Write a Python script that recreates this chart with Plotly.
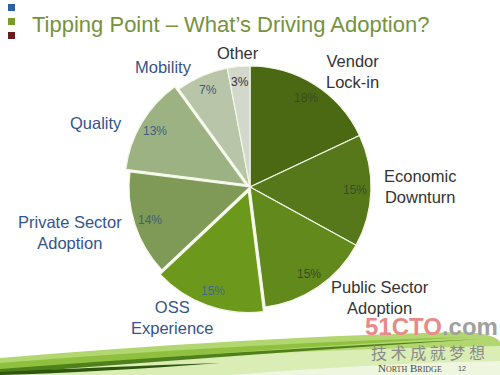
import math
import plotly.graph_objects as go

# ---- data ----
categories = ["Vendor<br>Lock-in", "Economic<br>Downturn", "Public Sector<br>Adoption",
              "OSS<br>Experience", "Private Sector<br>Adoption", "Quality", "Mobility", "Other"]
values = [18, 15, 15, 15, 14, 13, 7, 3]
pulls = [0, 0, 0, 0.04, 0, 0.04, 0, 0]
slice_colors = ["#4b6913", "#56781a", "#61891b", "#6c991c", "#7e9a56", "#9cb283", "#b9c5a8", "#d2d8cb"]
label_colors = ["#333333", "#333333", "#333333", "#35548a", "#35548a", "#35548a", "#35548a", "#333333"]
pct_colors = ["#3b4a26", "#3b4a26", "#3b4a26", "#3f6b88", "#3f5f7e", "#3f5f7e", "#3f5a80", "#333333"]
# outside label positions (pixels)
label_px = [(352, 72), (420, 187), (380, 297), (172, 317), (70, 232), (96, 123), (163, 67), (238, 53)]

W, H = 500, 375
cx, cy, R = 250, 187, 121
maxpull = max(pulls)
half = R * (1 + maxpull)

fig = go.Figure(go.Pie(
    labels=[c.replace("<br>", " ") for c in categories],
    values=values,
    pull=pulls,
    sort=False,
    direction="clockwise",
    rotation=0,
    textinfo="none",
    hoverinfo="label+percent",
    marker=dict(colors=slice_colors, line=dict(color="#f3f7e6", width=1.2)),
    domain=dict(x=[(cx - half) / W, (cx + half) / W],
                y=[1 - (cy + half) / H, 1 - (cy - half) / H]),
    showlegend=False,
))

ann = []
def P(px, py):
    return px / W, 1 - py / H

def add(px, py, text, size, color, family="Liberation Sans, Arial", xanchor="center", **kw):
    x, y = P(px, py)
    ann.append(dict(x=x, y=y, xref="paper", yref="paper", text=text, showarrow=False,
                    xanchor=xanchor, yanchor="middle",
                    font=dict(family=family, size=size, color=color), **kw))

# percent labels, placed along each slice's mid angle
total = sum(values)
cum = 0
for v, p, col in zip(values, pulls, pct_colors):
    mid = (cum + v / 2) / total * 2 * math.pi
    cum += v
    r = R * 0.87 + p * R
    add(cx + r * math.sin(mid), cy - r * math.cos(mid), f"{round(v / total * 100)}%", 12, col)

for cat, (px, py), col in zip(categories, label_px, label_colors):
    add(px, py, cat, 16.5, col, align="center")

# title
add(30, 24, "Tipping Point – What’s Driving Adoption?", 22, "#76923c", xanchor="left")

# watermark texts
add(431, 326, "<b><span style='color:#e88a8a'>51CTO</span><span style='color:#a0a0a0'>.com</span></b>", 24, "#a0a0a0",
    family="Liberation Sans Narrow, Liberation Sans")
add(428, 352, "技 术 成 就 梦 想", 16, "#8a8a8a", family="Noto Sans CJK SC")
add(410, 368, "N<span style='font-size:8px'>ORTH</span> B<span style='font-size:8px'>RIDGE</span>", 11, "#4a4a4a",
    family="Liberation Serif")
add(462, 368, "12", 7, "#555555")

shapes = []
# bullet squares
for (y0, col) in [(4, "#2f5ea6"), (18, "#7b9a2c"), (32, "#6a1c1c")]:
    shapes.append(dict(type="rect", xref="paper", yref="paper",
                       x0=8 / W, x1=15 / W, y0=1 - (y0 + 7) / H, y1=1 - y0 / H,
                       fillcolor=col, line=dict(width=0), layer="above"))

# green swoosh at bottom
def path(segs):
    s = ""
    for cmd, pts in segs:
        s += cmd + " " + " ".join(f"{px / W:.4f},{1 - py / H:.4f}" for px, py in pts) + " "
    return s + "Z"

def swoosh(fill, segs):
    shapes.append(dict(type="path", xref="paper", yref="paper", line=dict(width=0),
                       fillcolor=fill, layer="below", path=path(segs)))

swoosh("#d9edb4", [("M", [(0, 375)]), ("L", [(0, 372)]), ("Q", [(250, 352), (480, 340)]),
                   ("L", [(500, 345)]), ("L", [(500, 375)])])
swoosh("#eef6e0", [("M", [(230, 375)]), ("Q", [(380, 363), (500, 361)]), ("L", [(500, 375)])])
swoosh("#b3d770", [("M", [(0, 358)]), ("Q", [(250, 337), (460, 332)]), ("Q", [(495, 333), (500, 342)]),
                   ("L", [(500, 346)]), ("Q", [(250, 350), (0, 371)])])
swoosh("#8fc040", [("M", [(0, 363)]), ("Q", [(250, 343), (470, 337)]), ("Q", [(250, 350), (0, 370)])])
swoosh("#4f801b", [("M", [(0, 369)]), ("Q", [(250, 350), (480, 339)]), ("Q", [(250, 354), (0, 374)])])
swoosh("#2d560f", [("M", [(0, 372)]), ("Q", [(100, 367), (220, 363)]), ("Q", [(100, 372), (0, 375)])])

fig.update_layout(width=W, height=H, margin=dict(l=0, r=0, t=0, b=0),
                  paper_bgcolor="white", plot_bgcolor="white",
                  annotations=ann, shapes=shapes)
fig.write_html("out.html", config={"displayModeBar": False},
               post_script="document.body.style.margin='0';")
